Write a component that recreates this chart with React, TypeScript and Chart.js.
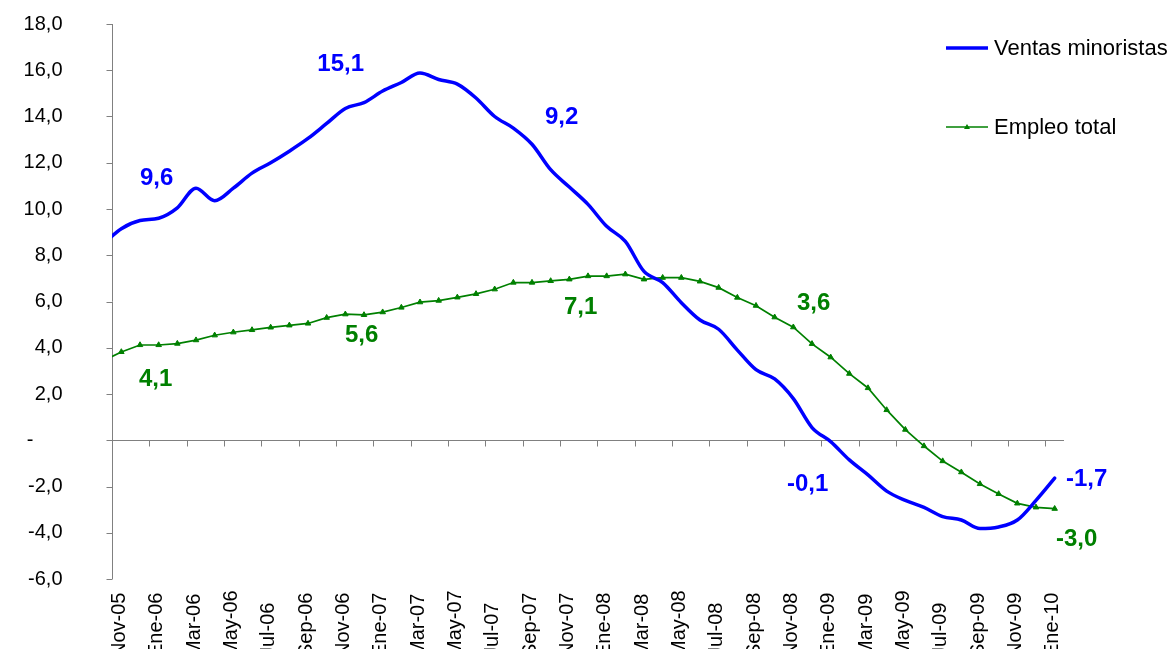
import { useEffect, useRef } from "react";
import { Chart, registerables } from "chart.js";

Chart.register(...registerables);

const FONT = "'Liberation Sans', Arial, sans-serif";

// Tick labels (every two months, Nov-05 .. Ene-10)
const etiquetas = [
  "Nov-05", "Ene-06", "Mar-06", "May-06", "Jul-06", "Sep-06", "Nov-06",
  "Ene-07", "Mar-07", "May-07", "Jul-07", "Sep-07", "Nov-07",
  "Ene-08", "Mar-08", "May-08", "Jul-08", "Sep-08", "Nov-08",
  "Ene-09", "Mar-09", "May-09", "Jul-09", "Sep-09", "Nov-09", "Ene-10",
];

// y-axis ticks
const yTicks = [-6, -4, -2, 0, 2, 4, 6, 8, 10, 12, 14, 16, 18];

// Monthly values, Oct-05 .. Ene-10 (52 months); month index = position - 1
const ventas = [
  8.47, 9.15, 9.5, 9.6, 10.05, 10.9, 10.36, 10.9, 11.55, 12.0, 12.5,
  13.05, 13.7, 14.35, 14.6, 15.1, 15.47, 15.88, 15.6, 15.4, 14.8,
  14.0, 13.5, 12.8, 11.7, 10.95, 10.2, 9.25, 8.6, 7.3, 6.82,
  5.95, 5.2, 4.8, 3.9, 3.05, 2.65, 1.8, 0.55, -0.06, -0.85,
  -1.5, -2.2, -2.6, -2.9, -3.3, -3.45, -3.82, -3.75, -3.45, -2.6, -1.64,
];

const empleo = [
  3.42, 3.82, 4.12, 4.12, 4.18, 4.33, 4.54, 4.67, 4.77, 4.88, 4.97,
  5.05, 5.3, 5.45, 5.42, 5.54, 5.74, 5.97, 6.04, 6.18, 6.33,
  6.53, 6.82, 6.82, 6.89, 6.96, 7.1, 7.1, 7.18, 6.96, 7.03,
  7.03, 6.87, 6.6, 6.17, 5.82, 5.32, 4.89, 4.17, 3.59, 2.88,
  2.26, 1.31, 0.46, -0.25, -0.9, -1.38, -1.89, -2.32, -2.73, -2.9, -2.96,
];

const series = ["Ventas minoristas", "Empleo total"];
const colores = ["#0000FF", "#008000"];

// Data labels: month index, value, and pixel offset of the text
const anotaciones = [
  { texto: "9,6", serie: 0, mes: 2, valor: 9.6, dx: -2, dy: -40 },
  { texto: "15,1", serie: 0, mes: 14, valor: 15.1, dx: -42, dy: -27 },
  { texto: "9,2", serie: 0, mes: 26, valor: 9.2, dx: -45, dy: -110 },
  { texto: "-0,1", serie: 0, mes: 38, valor: -0.1, dx: -23, dy: 42 },
  { texto: "-1,7", serie: 0, mes: 50, valor: -1.7, dx: 32, dy: 0 },
  { texto: "4,1", serie: 1, mes: 2, valor: 4.1, dx: -3, dy: 34 },
  { texto: "5,6", serie: 1, mes: 14, valor: 5.6, dx: -21, dy: 25 },
  { texto: "7,1", serie: 1, mes: 26, valor: 7.1, dx: -26, dy: 31 },
  { texto: "3,6", serie: 1, mes: 38, valor: 3.6, dx: -17, dy: -54 },
  { texto: "-3,0", serie: 1, mes: 50, valor: -3.0, dx: 22, dy: 30 },
];

const toPoints = (arr: number[]) => arr.map((v, i) => ({ x: i - 1, y: v }));

const ejesPlugin = {
  id: "ejesPersonalizados",
  beforeDatasetsDraw(chart: any) {
    const { ctx, chartArea, scales } = chart;
    const xs = scales.x;
    const ys = scales.y;
    const y0 = Math.round(ys.getPixelForValue(0)) + 0.5;
    ctx.save();
    ctx.strokeStyle = "#808080";
    ctx.lineWidth = 1;
    ctx.beginPath();
    ctx.moveTo(chartArea.left, y0);
    ctx.lineTo(chartArea.right, y0);
    for (let j = 1; j < etiquetas.length; j++) {
      const px = Math.round(xs.getPixelForValue(2 * j - 0.5)) + 0.5;
      ctx.moveTo(px, y0);
      ctx.lineTo(px, y0 + 6);
    }
    // y tick marks
    const xl = Math.round(chartArea.left) + 0.5;
    ctx.moveTo(xl, chartArea.top);
    ctx.lineTo(xl, chartArea.bottom);
    yTicks.forEach((v) => {
      const py = Math.round(ys.getPixelForValue(v)) + 0.5;
      ctx.moveTo(xl - 6, py);
      ctx.lineTo(xl, py);
    });
    ctx.stroke();
    // y labels
    ctx.fillStyle = "#000";
    ctx.font = `20px ${FONT}`;
    ctx.textAlign = "right";
    ctx.textBaseline = "middle";
    yTicks.forEach((v) => {
      const py = ys.getPixelForValue(v);
      if (v === 0) ctx.fillText("-", xl - 79, py);
      else ctx.fillText(v.toFixed(1).replace(".", ","), xl - 50, py);
    });
    ctx.restore();
  },
  afterDraw(chart: any) {
    const { ctx, scales, chartArea } = chart;
    const xs = scales.x;
    const ys = scales.y;
    ctx.save();
    // x labels, rotated
    ctx.fillStyle = "#000";
    ctx.font = `20px ${FONT}`;
    etiquetas.forEach((t, j) => {
      const px = xs.getPixelForValue(2 * j);
      ctx.save();
      ctx.translate(px + 3.5, chartArea.bottom + 78);
      ctx.rotate(-Math.PI / 2);
      ctx.textAlign = "left";
      ctx.textBaseline = "alphabetic";
      ctx.fillText(t, 0, 0);
      ctx.restore();
    });
    // data labels
    ctx.font = `bold 24px ${FONT}`;
    ctx.textAlign = "center";
    ctx.textBaseline = "middle";
    anotaciones.forEach((a) => {
      ctx.fillStyle = colores[a.serie];
      ctx.fillText(a.texto, xs.getPixelForValue(a.mes) + a.dx, ys.getPixelForValue(a.valor) + a.dy);
    });
    // legend
    const lx = chartArea.right - 118;
    const items = [48, 127];
    ctx.font = `22px ${FONT}`;
    ctx.textAlign = "left";
    ctx.textBaseline = "middle";
    series.forEach((s, i) => {
      const ly = items[i];
      ctx.strokeStyle = colores[i];
      ctx.lineWidth = i === 0 ? 3.5 : 1.7;
      ctx.beginPath();
      ctx.moveTo(lx, ly);
      ctx.lineTo(lx + 42, ly);
      ctx.stroke();
      if (i === 1) {
        ctx.fillStyle = colores[i];
        ctx.beginPath();
        ctx.moveTo(lx + 21, ly - 3);
        ctx.lineTo(lx + 24, ly + 2);
        ctx.lineTo(lx + 18, ly + 2);
        ctx.closePath();
        ctx.fill();
      }
      ctx.fillStyle = "#000";
      ctx.fillText(s, lx + 48, ly + 1);
    });
    ctx.restore();
  },
};

export default function App() {
  const ref = useRef<HTMLCanvasElement | null>(null);
  useEffect(() => {
    if (!ref.current) return;
    const chart = new Chart(ref.current, {
      type: "line",
      data: {
        datasets: [
          {
            label: series[0],
            data: toPoints(ventas),
            borderColor: colores[0],
            backgroundColor: colores[0],
            borderWidth: 3.5,
            pointRadius: 0,
            cubicInterpolationMode: "monotone",
            borderJoinStyle: "round",
            borderCapStyle: "round",
          },
          {
            label: series[1],
            data: toPoints(empleo),
            borderColor: colores[1],
            backgroundColor: colores[1],
            borderWidth: 1.7,
            pointStyle: "triangle",
            pointRadius: 3.2,
            pointBorderWidth: 1,
            tension: 0,
          },
        ],
      },
      options: {
        animation: false,
        responsive: false,
        devicePixelRatio: 1,
        layout: { padding: { left: 112, top: 24, right: 110, bottom: 70 } },
        plugins: { legend: { display: false }, tooltip: { enabled: false } },
        scales: {
          x: {
            type: "linear",
            display: false,
            min: -0.5,
            max: 50.5,
          },
          y: {
            type: "linear",
            display: false,
            min: -6,
            max: 18,
          },
        },
      },
      plugins: [ejesPlugin],
    });
    return () => chart.destroy();
  }, []);
  return (
    <div style={{ position: "absolute", left: 0, top: 0, width: 1174, height: 649, background: "#fff" }}>
      <canvas ref={ref} width={1174} height={649} style={{ display: "block", width: 1174, height: 649 }} />
    </div>
  );
}
